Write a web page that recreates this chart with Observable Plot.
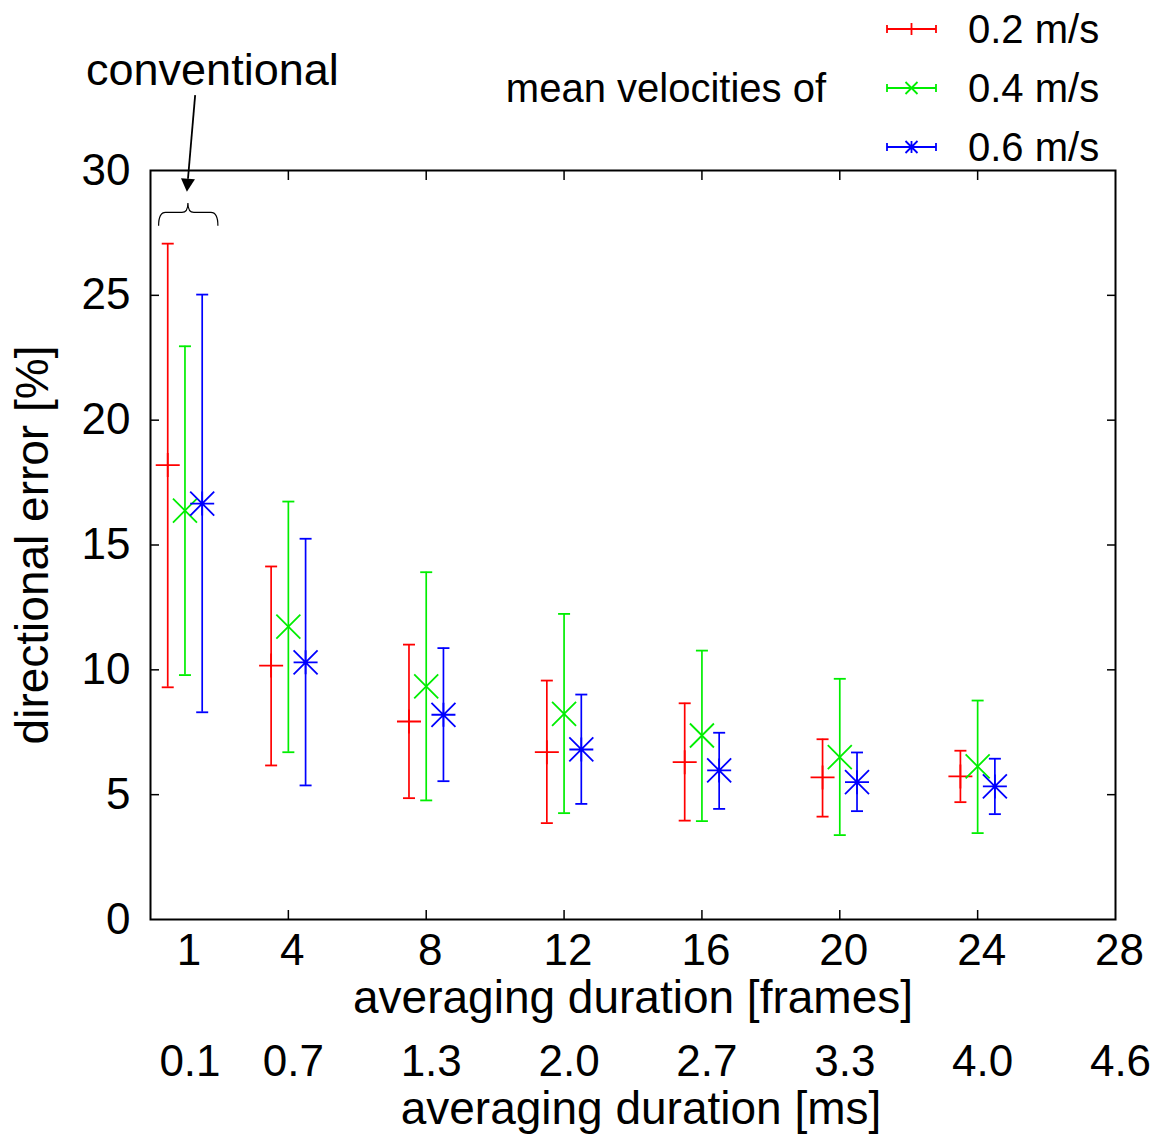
<!DOCTYPE html>
<html>
<head>
<meta charset="utf-8">
<script src="https://cdn.jsdelivr.net/npm/d3@7"></script>
<script src="https://cdn.jsdelivr.net/npm/@observablehq/plot@0.6"></script>
<style>
  html, body { margin: 0; padding: 0; background: #fff; }
  #chart svg { display: block; overflow: visible; }
</style>
</head>
<body>
<div id="chart"></div>
<script>
// ---------------- data ----------------
const frames = [1, 4, 8, 12, 16, 20, 24];
const series = ["0.2 m/s", "0.4 m/s", "0.6 m/s"];

const mean02 = [18.20, 10.17, 7.93, 6.70, 6.30, 5.69, 5.73];
const low02  = [ 9.30,  6.17, 4.86, 3.86, 3.96, 4.12, 4.70];
const high02 = [27.07, 14.14, 11.01, 9.57, 8.66, 7.22, 6.76];

const mean04 = [16.38, 11.73, 9.34, 8.24, 7.37, 6.50, 6.13];
const low04  = [ 9.79,  6.70, 4.77, 4.26, 3.94, 3.38, 3.46];
const high04 = [22.96, 16.74, 13.91, 12.24, 10.77, 9.64, 8.77];

const mean06 = [16.66, 10.30, 8.20, 6.81, 5.97, 5.50, 5.33];
const low06  = [ 8.30,  5.37, 5.54, 4.63, 4.43, 4.34, 4.22];
const high06 = [25.03, 15.25, 10.87, 9.01, 7.48, 6.69, 6.44];

const frameTickLabels = [1, 4, 8, 12, 16, 20, 24, 28];
const msTickLabels = ["0.1", "0.7", "1.3", "2.0", "2.7", "3.3", "4.0", "4.6"];
const innerXTicks = [4, 8, 12, 16, 20, 24];
const yTickLabels = [0, 5, 10, 15, 20, 25, 30];
const innerYTicks = [5, 10, 15, 20, 25];

const xLabel = "averaging duration [frames]";
const msLabel = "averaging duration [ms]";
const yLabel = "directional error [%]";
const legendTitle = "mean velocities of";
const annotationText = "conventional";

// ---------------- styles ----------------
const colors = ["#ff0000", "#00ee00", "#0000ff"];
const seriesOffset = [-0.5, 0, 0.5];   // horizontal dodge of the three series (frames)
const FONT = "'Liberation Sans', Arial, Helvetica, sans-serif";

// ---------------- build table ----------------
const means = [mean02, mean04, mean06];
const lows = [low02, low04, low06];
const highs = [high02, high04, high06];
const rows = [];
series.forEach((s, si) => frames.forEach((f, i) => rows.push({
  series: s, si, frame: f, mean: means[si][i], low: lows[si][i], high: highs[si][i]
})));
const xpos = d => d.frame + seriesOffset[d.si];

// symbol factories
const plusSym = h => ({draw(c) { c.moveTo(-h, 0); c.lineTo(h, 0); c.moveTo(0, -h); c.lineTo(0, h); }});
const timesSym = h => ({draw(c) { c.moveTo(-h, -h); c.lineTo(h, h); c.moveTo(-h, h); c.lineTo(h, -h); }});
const starSym = h => ({draw(c) {
  c.moveTo(-h, 0); c.lineTo(h, 0); c.moveTo(0, -h); c.lineTo(0, h);
  c.moveTo(-h, -h); c.lineTo(h, h); c.moveTo(-h, h); c.lineTo(h, -h);
}});
const capSym = {draw(c) { c.moveTo(-6, 0); c.lineTo(6, 0); }};

const msMap = new Map(frameTickLabels.map((f, i) => [f, msTickLabels[i]]));

const plot = Plot.plot({
  width: 1162,
  height: 1135,
  marginLeft: 150,
  marginRight: 47,
  marginTop: 170,
  marginBottom: 216,
  style: {fontFamily: FONT, background: "#fff", color: "#000", overflow: "visible"},
  x: {domain: [0, 28]},
  y: {domain: [0, 30]},
  color: {domain: series, range: colors},
  symbol: {domain: series, range: [plusSym(12), timesSym(12), starSym(12)]},
  marks: [
    // axis tick labels
    Plot.axisX(frameTickLabels, {anchor: "bottom", tickSize: 0, tickPadding: 14, dx: 4, fontSize: 44, label: null}),
    Plot.axisX(frameTickLabels, {anchor: "bottom", tickSize: 0, tickPadding: 125, dx: 5, fontSize: 44, label: null,
      tickFormat: d => msMap.get(d)}),
    Plot.axisY(yTickLabels, {anchor: "left", tickSize: 0, tickPadding: 20, fontSize: 44, label: null}),
    // inward ticks (mirrored)
    Plot.axisX(innerXTicks, {anchor: "bottom", tickSize: 9, dy: -9, fill: "none", strokeWidth: 1.5, label: null}),
    Plot.axisX(innerXTicks, {anchor: "top", tickSize: 9, dy: 9, fill: "none", strokeWidth: 1.5, label: null}),
    Plot.axisY(innerYTicks, {anchor: "left", tickSize: 9, dx: 9, fill: "none", strokeWidth: 1.5, label: null}),
    Plot.axisY(innerYTicks, {anchor: "right", tickSize: 9, dx: -9, fill: "none", strokeWidth: 1.5, label: null}),
    // axis titles
    Plot.text([xLabel], {frameAnchor: "bottom", dy: 93, lineAnchor: "bottom", textAnchor: "middle", fontSize: 46}),
    Plot.text([msLabel], {frameAnchor: "bottom", dy: 204, dx: 8, lineAnchor: "bottom", textAnchor: "middle", fontSize: 46}),
    Plot.text([yLabel], {frameAnchor: "left", dx: -103, rotate: -90, lineAnchor: "bottom", textAnchor: "middle", fontSize: 46}),
    // error bars
    Plot.ruleX(rows, {x: xpos, y1: "low", y2: "high", stroke: "series", strokeWidth: 1.7}),
    Plot.dot(rows, {x: xpos, y: "high", symbol: capSym, stroke: "series", fill: "none", strokeWidth: 1.8}),
    Plot.dot(rows, {x: xpos, y: "low", symbol: capSym, stroke: "series", fill: "none", strokeWidth: 1.8}),
    // centre markers
    Plot.dot(rows, {x: xpos, y: "mean", symbol: "series", stroke: "series", fill: "none", strokeWidth: 1.8}),
    // frame
    Plot.frame({stroke: "#000", strokeWidth: 2})
  ]
});

document.getElementById("chart").appendChild(plot);

// ---------------- legend & annotation (drawn on the plot's SVG) ----------------
const svg = d3.select(plot);
const xs = plot.scale("x"), ys = plot.scale("y");
const X = v => xs.apply(v), Y = v => ys.apply(v);

// legend
const legendRowY = [29, 88, 147];
const legendSyms = [plusSym(6), timesSym(6), starSym(6)];
const lg = svg.append("g").attr("font-family", FONT).attr("text-anchor", "start");
series.forEach((s, i) => {
  const y = legendRowY[i];
  const g = lg.append("g").attr("stroke", colors[i]).attr("stroke-width", 1.8).attr("fill", "none");
  g.append("line").attr("x1", 887).attr("x2", 936).attr("y1", y).attr("y2", y);
  g.append("line").attr("x1", 887).attr("x2", 887).attr("y1", y - 4).attr("y2", y + 4);
  g.append("line").attr("x1", 936).attr("x2", 936).attr("y1", y - 4).attr("y2", y + 4);
  const p = d3.path(); legendSyms[i].draw(p);
  g.append("path").attr("d", p.toString()).attr("transform", `translate(911.5,${y})`);
  lg.append("text").attr("x", 968).attr("y", y + 14).attr("font-size", 40)
    .attr("text-anchor", "start").attr("fill", "#000").text(s);
});
lg.append("text").attr("x", 826).attr("y", 102).attr("font-size", 40).attr("text-anchor", "end")
  .attr("fill", "#000").text(legendTitle);

// annotation: "conventional" label, arrow and brace over the first group
const ann = svg.append("g").attr("font-family", FONT);
ann.append("text").attr("x", X(1.81)).attr("y", Y(33.4)).attr("text-anchor", "middle")
  .attr("font-size", 45).attr("fill", "#000").text(annotationText);
const ax1 = X(1.31), ay1 = Y(33.0), ax2 = X(1.07), ay2 = Y(29.13);
const ang = Math.atan2(ay2 - ay1, ax2 - ax1);
const headLen = 13, headW = 7;
const bx = ax2 - headLen * Math.cos(ang), by = ay2 - headLen * Math.sin(ang);
ann.append("line").attr("x1", ax1).attr("y1", ay1).attr("x2", bx).attr("y2", by)
  .attr("stroke", "#000").attr("stroke-width", 1.8);
ann.append("path")
  .attr("d", `M${ax2},${ay2}L${bx + headW * Math.sin(ang)},${by - headW * Math.cos(ang)}L${bx - headW * Math.sin(ang)},${by + headW * Math.cos(ang)}Z`)
  .attr("fill", "#000");
// brace
const xl = X(0.25), xr = X(1.97), xm = X(1.1), ye = Y(27.77), yf = Y(28.3), yp = Y(28.68);
const bp = `M${xl},${ye}Q${xl},${yf} ${xl + 7},${yf}L${xm - 6},${yf}Q${xm},${yf} ${xm},${yp}` +
           `Q${xm},${yf} ${xm + 6},${yf}L${xr - 7},${yf}Q${xr},${yf} ${xr},${ye}`;
ann.append("path").attr("d", bp).attr("fill", "none").attr("stroke", "#000").attr("stroke-width", 1.2);
</script>
</body>
</html>
